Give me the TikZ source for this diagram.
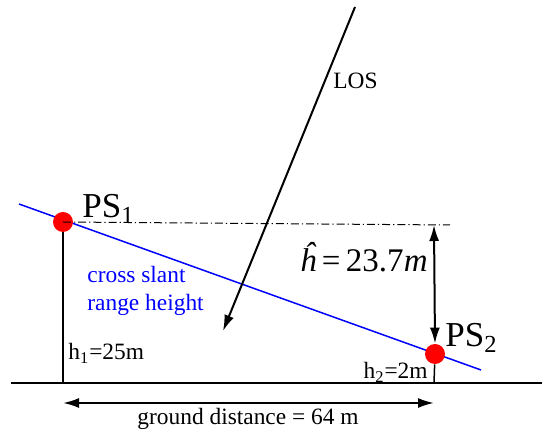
\documentclass[tikz,border=0pt]{standalone}
\usepackage{fontspec}
\setmainfont{Liberation Serif}
\usetikzlibrary{arrows.meta}
\begin{document}
\begin{tikzpicture}
  [x=0.5pt,y=-0.5pt,
   ps/.style={circle,fill=red,inner sep=0pt,minimum size=10pt},
   lbl/.style={font=\fontsize{11.7}{14}\selectfont,inner sep=0pt},
   big/.style={font=\fontsize{17.5}{20}\selectfont,inner sep=0pt},
   arr/.style={line width=1pt,-{Latex[length=8pt,width=5pt]}},
   darr/.style={line width=1pt,{Latex[length=8pt,width=5pt]}-{Latex[length=8pt,width=5pt]}}]
  \useasboundingbox (0,0) rectangle (542,432);
  % ground and slant range line
  \coordinate (gl) at (11,383);
  \coordinate (gr) at (542,383);
  \coordinate (g1) at (63,383);
  \coordinate (g2) at (434,383);
  \coordinate (s1) at (19,204);
  \coordinate (s2) at (481,370);
  \coordinate (top) at (434,225);
  \coordinate (dend) at (450,225);
  \coordinate (los0) at (355,7);
  \coordinate (los1) at (223,331);
  \coordinate (d1) at (63,403);
  \coordinate (d2) at (434,403);
  \draw[line width=0.75pt] (gl) -- (gr);
  \draw[blue,line width=0.75pt] (s1) -- (s2);
  \node[ps] (ps1) at (63,222) {};
  \node[ps] (ps2) at (435,354) {};
  \draw[line width=0.75pt] (ps1) -- (g1);
  \draw[line width=0.75pt] (ps2) -- (g2);
  \draw[line width=0.5pt,dash pattern=on 4pt off 1.5pt on 0.6pt off 1.5pt] (ps1.center) -- (dend);
  \draw[arr] (los0) -- (los1);
  \draw[darr] (top) -- (ps2.north);
  \draw[darr] (d1) -- (d2);
  % labels
  \node[big,anchor=base west] (ps1l) at (82,218) {PS\textsubscript{1}};
  \node[big,anchor=base west] (ps2l) at (445,347) {PS\textsubscript{2}};
  \node[lbl,anchor=base west] (h1) at (68,360) {h\textsubscript{1}=25m};
  \node[lbl,anchor=base east] (h2) at (428,379) {h\textsubscript{2}=2m};
  \node[lbl,anchor=west,align=left,text=blue] (csr) at (87,291) {cross slant\\range height};
  \node[lbl,anchor=base west] (los) at (333,89) {LOS};
  \node[lbl,anchor=base] (gd) at (248,425) {ground distance = 64 m};
  \node[inner sep=0pt,anchor=base east,font=\fontsize{16.5}{19}\selectfont] (hh) at (428,272)
        {\textit{\^h}\,=\,23.7\textit{m}};
\end{tikzpicture}
\end{document}
